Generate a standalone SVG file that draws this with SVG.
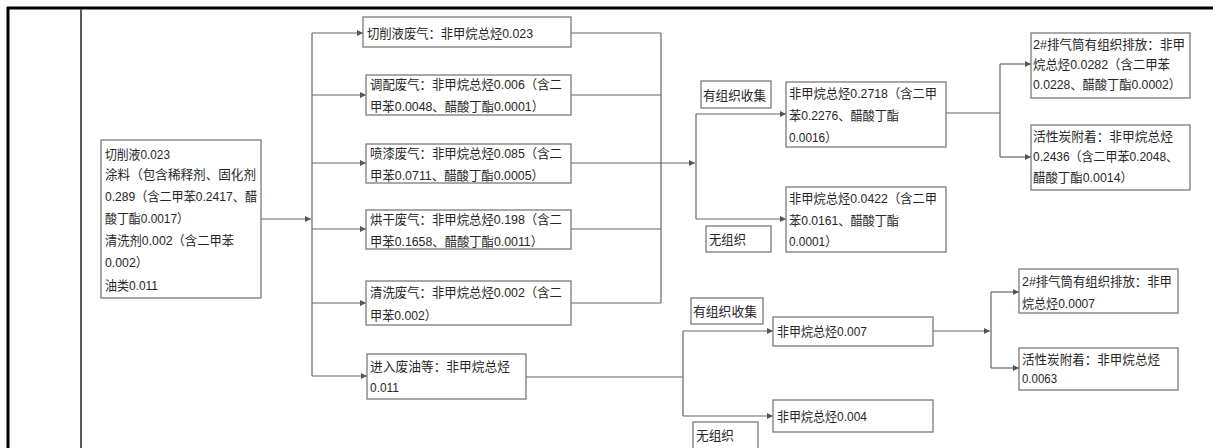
<svg xmlns="http://www.w3.org/2000/svg" width="1213" height="448" viewBox="0 0 1213 448">
<defs>
<marker id="ah" markerWidth="6" markerHeight="6" refX="6" refY="3" orient="auto" markerUnits="userSpaceOnUse"><path d="M0,0 L6,3 L0,6 z" fill="#555"/></marker>
<style>
.b{fill:#fff;stroke:#7a7a7a;stroke-width:1.3}
.t{font-family:"Liberation Sans","Noto Sans CJK SC",sans-serif;font-size:12.8px;fill:#262626;dominant-baseline:central}
.c{fill:none;stroke:#666;stroke-width:1.2}
.a{fill:none;stroke:#666;stroke-width:1.2;marker-end:url(#ah)}
</style>
</defs>
<rect width="1213" height="448" fill="#fff"/>
<g id="frame">
<line x1="7" y1="8" x2="1213" y2="8" stroke="#000" stroke-width="3"/>
<line x1="8" y1="7" x2="8" y2="448" stroke="#000" stroke-width="3"/>
<line x1="81" y1="9" x2="81" y2="448" stroke="#5a5a5a" stroke-width="2"/>
</g>
<g id="connectors">
<path class="a" d="M261,219 H311"/>
<path class="c" d="M312,33 V376"/>
<path class="a" d="M312,33 H363"/>
<path class="a" d="M312,95 H366"/>
<path class="a" d="M312,163 H366"/>
<path class="a" d="M312,229 H366"/>
<path class="a" d="M312,303 H366"/>
<path class="a" d="M312,376 H367"/>
<path class="c" d="M571,33 H661 M571,95 H661 M571,229 H661 M571,303 H661 M661,33 V303"/>
<path class="a" d="M571,163 H695"/>
<path class="c" d="M696,114 V219"/>
<path class="a" d="M696,114 H786"/>
<path class="a" d="M696,219 H786"/>
<path class="c" d="M946,113 H1000 M1000,64 V157"/>
<path class="a" d="M1000,64 H1031"/>
<path class="a" d="M1000,157 H1031"/>
<path class="c" d="M526,377 H683 M683,331 V416"/>
<path class="a" d="M683,331 H773"/>
<path class="a" d="M683,416 H773"/>
<path class="a" d="M933,331 H990"/>
<path class="c" d="M991,292 V368"/>
<path class="a" d="M991,292 H1019"/>
<path class="a" d="M991,368 H1019"/>
</g>
<g id="n_src">
<rect class="b" x="101" y="140" width="160" height="158"/>
<text class="t" x="105" y="154" textLength="65" lengthAdjust="spacingAndGlyphs">切削液0.023</text>
<text class="t" x="105" y="174" textLength="151" lengthAdjust="spacingAndGlyphs">涂料（包含稀释剂、固化剂</text>
<text class="t" x="105" y="196" textLength="152" lengthAdjust="spacingAndGlyphs">0.289（含二甲苯0.2417、醋</text>
<text class="t" x="105" y="218" textLength="84" lengthAdjust="spacingAndGlyphs">酸丁酯0.0017）</text>
<text class="t" x="105" y="240" textLength="129" lengthAdjust="spacingAndGlyphs">清洗剂0.002（含二甲苯</text>
<text class="t" x="105" y="262" textLength="43" lengthAdjust="spacingAndGlyphs">0.002）</text>
<text class="t" x="105" y="285" textLength="53" lengthAdjust="spacingAndGlyphs">油类0.011</text>
</g>
<g id="n_cut">
<rect class="b" x="363" y="17" width="208" height="30"/>
<text class="t" x="367" y="33" textLength="166" lengthAdjust="spacingAndGlyphs">切削液废气：非甲烷总烃0.023</text>
</g>
<g id="n_mix">
<rect class="b" x="366" y="75" width="205" height="40"/>
<text class="t" x="370" y="84" textLength="192" lengthAdjust="spacingAndGlyphs">调配废气：非甲烷总烃0.006（含二</text>
<text class="t" x="370" y="106" textLength="174" lengthAdjust="spacingAndGlyphs">甲苯0.0048、醋酸丁酯0.0001）</text>
</g>
<g id="n_spray">
<rect class="b" x="366" y="144" width="205" height="39"/>
<text class="t" x="370" y="153" textLength="192" lengthAdjust="spacingAndGlyphs">喷漆废气：非甲烷总烃0.085（含二</text>
<text class="t" x="370" y="175" textLength="174" lengthAdjust="spacingAndGlyphs">甲苯0.0711、醋酸丁酯0.0005）</text>
</g>
<g id="n_dry">
<rect class="b" x="366" y="210" width="205" height="39"/>
<text class="t" x="370" y="219" textLength="192" lengthAdjust="spacingAndGlyphs">烘干废气：非甲烷总烃0.198（含二</text>
<text class="t" x="370" y="241" textLength="173" lengthAdjust="spacingAndGlyphs">甲苯0.1658、醋酸丁酯0.0011）</text>
</g>
<g id="n_clean">
<rect class="b" x="366" y="281" width="205" height="44"/>
<text class="t" x="370" y="292" textLength="192" lengthAdjust="spacingAndGlyphs">清洗废气：非甲烷总烃0.002（含二</text>
<text class="t" x="370" y="315" textLength="67" lengthAdjust="spacingAndGlyphs">甲苯0.002）</text>
</g>
<g id="n_oil">
<rect class="b" x="367" y="354" width="159" height="45"/>
<text class="t" x="370" y="366" textLength="140" lengthAdjust="spacingAndGlyphs">进入废油等：非甲烷总烃</text>
<text class="t" x="370" y="387" textLength="29" lengthAdjust="spacingAndGlyphs">0.011</text>
</g>
<g id="lbl_org1">
<rect class="b" x="701" y="81" width="70" height="27"/>
<text class="t" x="703" y="95" textLength="63" lengthAdjust="spacingAndGlyphs">有组织收集</text>
</g>
<g id="n_org1">
<rect class="b" x="786" y="82" width="160" height="65"/>
<text class="t" x="789" y="93" textLength="148" lengthAdjust="spacingAndGlyphs">非甲烷总烃0.2718（含二甲</text>
<text class="t" x="789" y="115" textLength="110" lengthAdjust="spacingAndGlyphs">苯0.2276、醋酸丁酯</text>
<text class="t" x="789" y="137" textLength="48" lengthAdjust="spacingAndGlyphs">0.0016）</text>
</g>
<g id="n_unorg1">
<rect class="b" x="786" y="187" width="160" height="65"/>
<text class="t" x="789" y="198" textLength="148" lengthAdjust="spacingAndGlyphs">非甲烷总烃0.0422（含二甲</text>
<text class="t" x="789" y="220" textLength="110" lengthAdjust="spacingAndGlyphs">苯0.0161、醋酸丁酯</text>
<text class="t" x="789" y="241" textLength="48" lengthAdjust="spacingAndGlyphs">0.0001）</text>
</g>
<g id="lbl_unorg1">
<rect class="b" x="706" y="226" width="65" height="26"/>
<text class="t" x="709" y="239" textLength="37" lengthAdjust="spacingAndGlyphs">无组织</text>
</g>
<g id="n_stack1">
<rect class="b" x="1031" y="33" width="159" height="65"/>
<text class="t" x="1033" y="44" textLength="152" lengthAdjust="spacingAndGlyphs">2#排气筒有组织排放：非甲</text>
<text class="t" x="1033" y="64" textLength="137" lengthAdjust="spacingAndGlyphs">烷总烃0.0282（含二甲苯</text>
<text class="t" x="1033" y="84" textLength="148" lengthAdjust="spacingAndGlyphs">0.0228、醋酸丁酯0.0002）</text>
</g>
<g id="n_carbon1">
<rect class="b" x="1031" y="125" width="159" height="65"/>
<text class="t" x="1033" y="136" textLength="140" lengthAdjust="spacingAndGlyphs">活性炭附着：非甲烷总烃</text>
<text class="t" x="1033" y="156" textLength="145" lengthAdjust="spacingAndGlyphs">0.2436（含二甲苯0.2048、</text>
<text class="t" x="1033" y="177" textLength="100" lengthAdjust="spacingAndGlyphs">醋酸丁酯0.0014）</text>
</g>
<g id="lbl_org2">
<rect class="b" x="691" y="298" width="72" height="26"/>
<text class="t" x="693" y="311" textLength="64" lengthAdjust="spacingAndGlyphs">有组织收集</text>
</g>
<g id="n_org2">
<rect class="b" x="773" y="317" width="160" height="29"/>
<text class="t" x="777" y="331" textLength="90" lengthAdjust="spacingAndGlyphs">非甲烷总烃0.007</text>
</g>
<g id="n_unorg2">
<rect class="b" x="773" y="400" width="160" height="32"/>
<text class="t" x="777" y="416" textLength="90" lengthAdjust="spacingAndGlyphs">非甲烷总烃0.004</text>
</g>
<g id="lbl_unorg2">
<rect class="b" x="693" y="422" width="65" height="30"/>
<text class="t" x="696" y="435" textLength="38" lengthAdjust="spacingAndGlyphs">无组织</text>
</g>
<g id="n_stack2">
<rect class="b" x="1019" y="269" width="159" height="44"/>
<text class="t" x="1022" y="281" textLength="150" lengthAdjust="spacingAndGlyphs">2#排气筒有组织排放：非甲</text>
<text class="t" x="1022" y="303" textLength="73" lengthAdjust="spacingAndGlyphs">烷总烃0.0007</text>
</g>
<g id="n_carbon2">
<rect class="b" x="1019" y="348" width="159" height="42"/>
<text class="t" x="1022" y="359" textLength="138" lengthAdjust="spacingAndGlyphs">活性炭附着：非甲烷总烃</text>
<text class="t" x="1022" y="378" textLength="35" lengthAdjust="spacingAndGlyphs">0.0063</text>
</g>
</svg>
